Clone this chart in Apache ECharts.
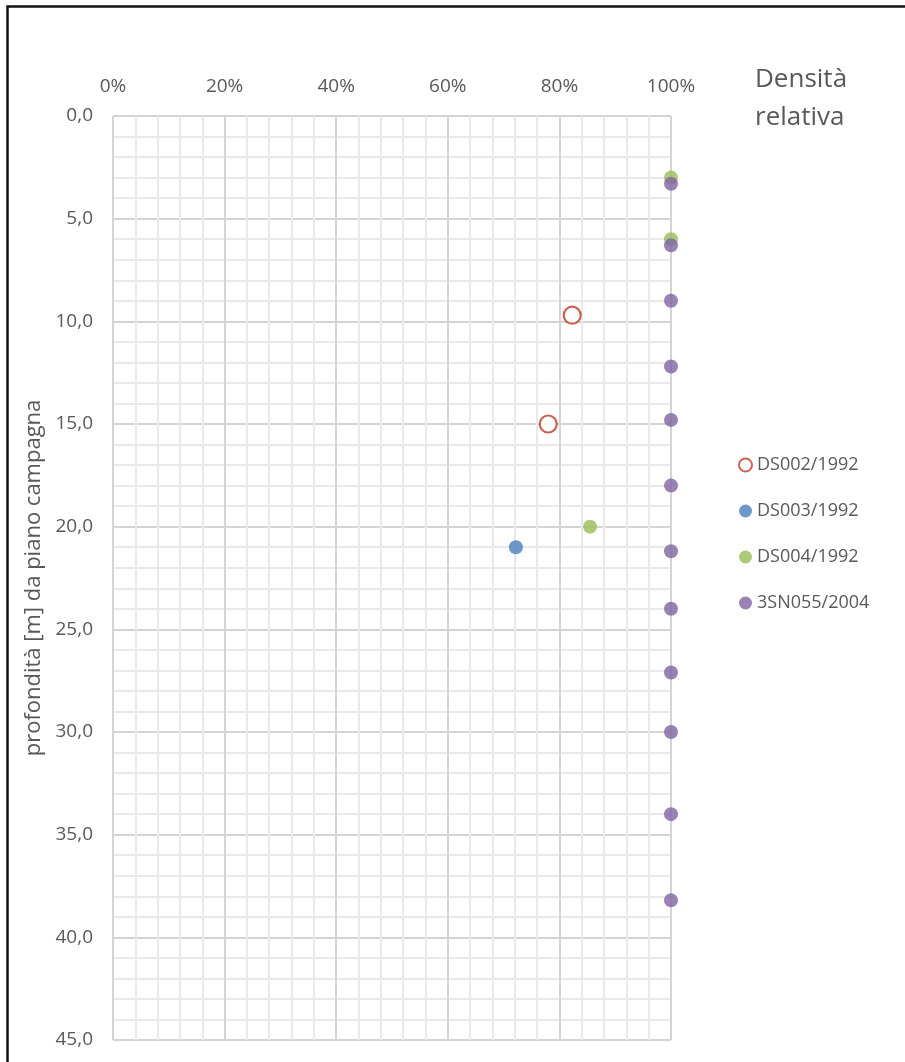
<!DOCTYPE html>
<html><head><meta charset="utf-8">
<script src="https://cdn.jsdelivr.net/npm/echarts@6/dist/echarts.min.js"></script>
<style>html,body{margin:0;padding:0;background:#fff}#c{width:905px;height:1062px}</style>
</head><body><div id="c"></div>
<script>
const seriesNames = ['DS002/1992','DS003/1992','DS004/1992','3SN055/2004'];
const ds002 = [[0.823, 9.7],[0.780, 15.0]];
const ds003 = [[0.722, 21.0]];
const ds004 = [[1.0, 3.0],[1.0, 6.0],[0.855, 20.0]];
const sn055 = [[1.0,3.3],[1.0,6.3],[1.0,9.0],[1.0,12.2],[1.0,14.8],[1.0,18.0],[1.0,21.2],[1.0,24.0],[1.0,27.1],[1.0,30.0],[1.0,34.0],[1.0,38.2]];
const xTicks = [0,0.2,0.4,0.6,0.8,1.0];
const yTicks = [0,5,10,15,20,25,30,35,40,45];

const FONT = '"Open Sans", "Noto Sans", sans-serif';
const chart = echarts.init(document.getElementById('c'));
chart.setOption({
  animation:false,
  backgroundColor:'#fff',
  textStyle:{fontFamily:FONT},
  graphic:[{type:'rect',shape:{x:7.5,y:6.5,width:1000,height:1100},style:{fill:'none',stroke:'#111',lineWidth:2.5},silent:true},
    {type:'text',left:755,top:61,style:{text:'Densità\nrelativa',font:'26px '+FONT,fill:'#595959',lineHeight:38,align:'left'}}],
  grid:{left:113,top:116,right:234,bottom:22,containLabel:false},
  legend:{orient:'vertical',left:733,top:451,itemGap:28,itemWidth:13,itemHeight:13,
    textStyle:{fontSize:18,color:'#595959',fontFamily:FONT},
    data:seriesNames.map(n=>({name:n,icon:'circle'}))},
  xAxis:{type:'value',position:'top',min:0,max:1,interval:0.2,
    axisLine:{show:false},axisTick:{show:false},
    axisLabel:{formatter:v=>Math.round(v*100)+'%',color:'#595959',fontSize:19,margin:20,fontFamily:FONT},
    splitLine:{show:true,lineStyle:{color:'#d4d4d4',width:2}},
    minorTick:{show:false,splitNumber:5},
    minorSplitLine:{show:true,lineStyle:{color:'#e9e9e9',width:2}}},
  yAxis:{type:'value',inverse:true,min:0,max:45,interval:5,
    name:'profondità [m] da piano campagna',nameLocation:'middle',nameGap:68,nameRotate:90,
    nameTextStyle:{fontSize:22,color:'#595959',fontFamily:FONT},
    axisLine:{show:false},axisTick:{show:false},
    axisLabel:{formatter:v=>v.toFixed(1).replace('.',','),color:'#595959',fontSize:19,margin:20,fontFamily:FONT},
    splitLine:{show:true,lineStyle:{color:'#d4d4d4',width:2}},
    minorTick:{show:false,splitNumber:5},
    minorSplitLine:{show:true,lineStyle:{color:'#e9e9e9',width:2}}},
  series:[
    {name:seriesNames[0],type:'scatter',data:ds002,symbol:'circle',symbolSize:17,
      itemStyle:{color:'#ffffff',borderColor:'#c0392b',borderWidth:2.2}},
    {name:seriesNames[1],type:'scatter',data:ds003,symbolSize:14,itemStyle:{color:'#4a7ebb'}},
    {name:seriesNames[2],type:'scatter',data:ds004,symbolSize:14,itemStyle:{color:'#9bbb59'}},
    {name:seriesNames[3],type:'scatter',data:sn055,symbolSize:14,itemStyle:{color:'#8064a2'}}
  ]
});
</script></body></html>
